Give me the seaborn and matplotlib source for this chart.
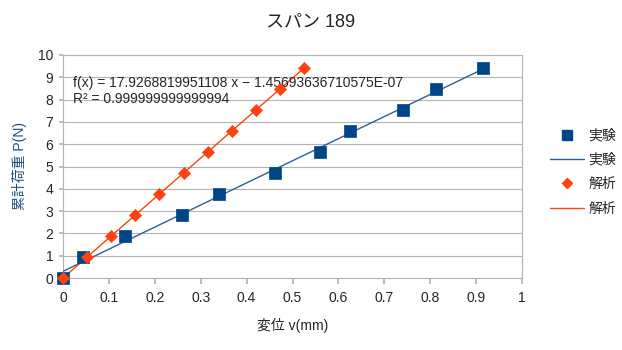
import numpy as np
import pandas as pd
import matplotlib
matplotlib.use("Agg")
import matplotlib.pyplot as plt
import seaborn as sns
from matplotlib.lines import Line2D

# Data
exp_disp = [0.0, 0.044, 0.135, 0.259, 0.340, 0.462, 0.560, 0.625, 0.741, 0.813, 0.915]
exp_load = [0.0, 0.942, 1.884, 2.826, 3.768, 4.710, 5.652, 6.594, 7.536, 8.478, 9.420]
ana_disp = [0.0, 0.0525, 0.1051, 0.1576, 0.2102, 0.2627, 0.3153, 0.3678, 0.4204, 0.4729, 0.5255]
ana_load = [0.0, 0.942, 1.884, 2.826, 3.768, 4.710, 5.652, 6.594, 7.536, 8.478, 9.420]
series_names = ["実験", "解析"]
title = "スパン 189"
xlabel = "変位 v(mm)"
ylabel = "累計荷重 P(N)"
eq_text = "f(x) = 17.9268819951108 x − 1.45693636710575E-07\nR² = 0.999999999999994"

sns.set_theme(style="white")
plt.rcParams['font.family'] = ['Liberation Sans', 'Noto Sans CJK JP', 'DejaVu Sans']

blue = "#004586"
blue_line = "#2a6099"
red = "#ff420e"

fig = plt.figure(figsize=(6.22, 3.5), dpi=100)
ax = fig.add_axes([63/622, 1-278/350, (522-63)/622, (278-55)/350])

df_exp = pd.DataFrame({"x": exp_disp, "y": exp_load})
df_ana = pd.DataFrame({"x": ana_disp, "y": ana_load})

# trend lines
ce = np.polyfit(exp_disp, exp_load, 1)
ca = np.polyfit(ana_disp, ana_load, 1)
tx_e = np.array([min(exp_disp), max(exp_disp)])
tx_a = np.array([min(ana_disp), max(ana_disp)])
sns.lineplot(x=tx_e, y=np.polyval(ce, tx_e), ax=ax, color=blue_line, linewidth=1, zorder=3)
sns.lineplot(x=tx_a, y=np.polyval(ca, tx_a), ax=ax, color=red, linewidth=1, zorder=3)

sns.scatterplot(data=df_exp, x="x", y="y", ax=ax, marker="s", s=85, color=blue,
                edgecolor=blue, linewidth=0.5, zorder=4, clip_on=False)
sns.scatterplot(data=df_ana, x="x", y="y", ax=ax, marker="D", s=38, color=red,
                edgecolor=red, linewidth=0.5, zorder=5, clip_on=False)

ax.set_xlim(0, 1)
ax.set_ylim(0, 10)
ax.set_xticks(np.arange(0, 1.01, 0.1))
ax.set_xticklabels(["0", "0.1", "0.2", "0.3", "0.4", "0.5", "0.6", "0.7", "0.8", "0.9", "1"])
ax.set_yticks(range(0, 11))
ax.yaxis.grid(True, color="#b3b3b3", linewidth=0.8)
ax.xaxis.grid(False)
for s in ax.spines.values():
    s.set_color("#b3b3b3")
    s.set_linewidth(0.8)
ax.tick_params(axis="x", direction="out", length=4, color="#b3b3b3", labelsize=10, pad=5, bottom=True)
ax.tick_params(axis="y", direction="out", length=3, color="#b3b3b3", labelsize=10, pad=4, left=True)

ax.set_xlabel(xlabel, fontsize=10, labelpad=10)
ax.set_ylabel(ylabel, fontsize=10, labelpad=8, color="#1a4f80")
fig.suptitle(title, x=0.5, y=1-22/350, va="center", fontsize=13)

ax.text(0.022, 0.905, eq_text, transform=ax.transAxes, fontsize=10, va="top", linespacing=1.15)

handles = [
    Line2D([], [], marker="s", linestyle="none", color=blue, markersize=7),
    Line2D([], [], color=blue_line, linewidth=1),
    Line2D([], [], marker="D", linestyle="none", color=red, markersize=5),
    Line2D([], [], color=red, linewidth=1),
]
labels = [series_names[0], series_names[0], series_names[1], series_names[1]]
fig.legend(handles, labels, loc="center left", bbox_to_anchor=(537/622, 1-172/350),
           frameon=False, fontsize=10, handlelength=2.5, labelspacing=0.75, handletextpad=0.3)

fig.savefig("out.png", dpi=100)
